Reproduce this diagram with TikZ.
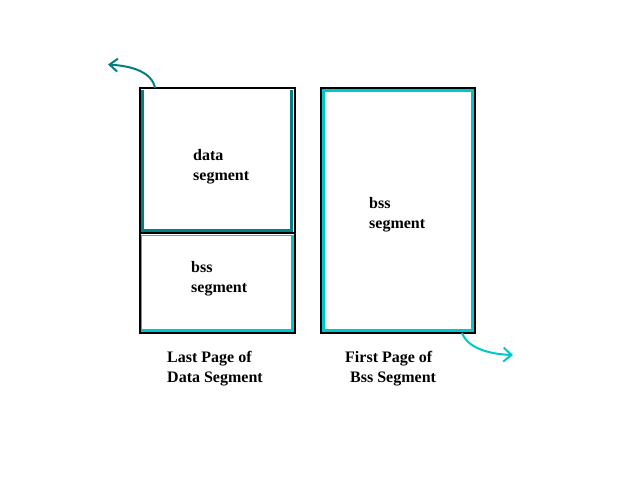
\documentclass[tikz,border=0pt]{standalone}
\usepackage{fontspec}
\setmainfont{Liberation Serif}
\usetikzlibrary{arrows.meta}
\definecolor{tealc}{RGB}{0,128,128}
\definecolor{cyanc}{RGB}{0,200,200}
\tikzset{
  lbl/.style={anchor=base west, inner sep=0pt, font=\fontsize{16}{20}\selectfont\bfseries},
  outer/.style={draw=black, line width=2pt},
  tealline/.style={draw=tealc, line width=3pt},
  cyanline/.style={draw=cyanc, line width=3pt},
  cyanthin/.style={draw=cyanc, line width=1pt},
  tealarrow/.style={draw=tealc, line width=2pt, -{Straight Barb[length=8pt,width=13pt,line width=2pt]}},
  cyanarrow/.style={draw=cyanc, line width=2pt, -{Straight Barb[length=8pt,width=14pt,line width=2pt]}},
}
\begin{document}
\begin{tikzpicture}[x=1pt,y=-1pt]
\useasboundingbox[fill=white] (0,0) rectangle (640,480);
% left box: data segment (teal)
\draw[tealline] (142,89.5) -- (142,230) -- (291,230) -- (291,89.5);
% left box: bss part (cyan)
\draw[cyanthin] (141.5,330) -- (141.5,235.5) -- (292,235.5);
\draw[cyanline] (141,330) -- (292,330) -- (292,235);
% outer left box
\draw[outer] (140,88) rectangle (295,333);
\draw[outer] (140,233) -- (295,233);
% right box
\draw[cyanline] (323,90.5) rectangle (472.5,330.5);
\draw[outer] (321,88) rectangle (475,333);
% arrows
\coordinate (a1s) at (155,88);
\coordinate (a1e) at (108,64.5);
\coordinate (a2s) at (462,333);
\coordinate (a2e) at (513,355);
\draw[tealarrow] (a1s) .. controls (152,72) and (132,66) .. (a1e);
\draw[cyanarrow] (a2s) .. controls (468,348) and (488,354) .. (a2e);
% texts
\node[lbl] (d1) at (193,160) {data};
\node[lbl] (d2) at (193,180) {segment};
\node[lbl] (b1) at (191,272) {bss};
\node[lbl] (b2) at (191,292) {segment};
\node[lbl] (r1) at (369,208) {bss};
\node[lbl] (r2) at (369,228) {segment};
\node[lbl] (c1) at (167,362) {Last Page of};
\node[lbl] (c2) at (167,382) {Data Segment};
\node[lbl] (c3) at (345,362) {First Page of};
\node[lbl] (c4) at (350,382) {Bss Segment};
\end{tikzpicture}
\end{document}
